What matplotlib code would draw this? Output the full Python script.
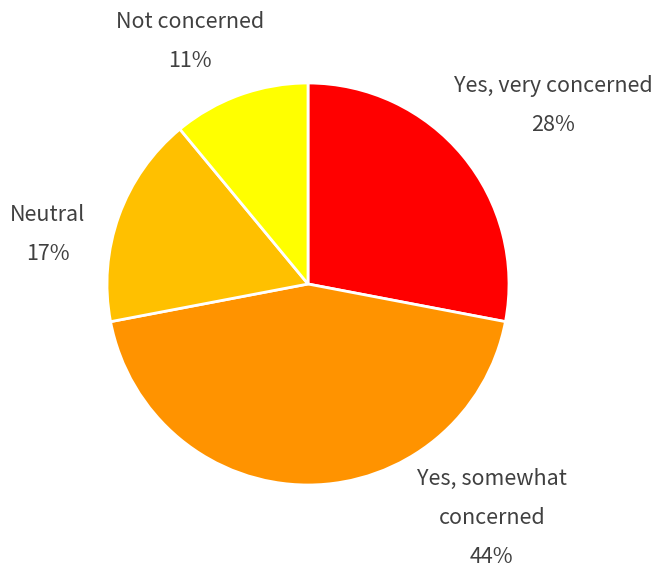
import matplotlib.pyplot as plt

labels = ["Yes, very concerned", "Yes, somewhat\nconcerned", "Neutral", "Not concerned"]
values = [28, 44, 17, 11]
colors = ["#FF0000", "#FF9300", "#FFC000", "#FFFF00"]
# label centres, in units of the pie radius
label_pos = [(1.22, 0.89), (0.915, -1.165), (-1.295, 0.245), (-0.585, 1.205)]

plt.rcParams['font.family'] = ['Noto Sans CJK KR', 'DejaVu Sans']

fig = plt.figure(figsize=(6.59, 5.67), dpi=100)
ax = fig.add_axes([(308 - 201) / 659, (567 - 284 - 201) / 567, 402 / 659, 402 / 567])
ax.pie(values, colors=colors, startangle=90, counterclock=False, radius=1,
       wedgeprops=dict(edgecolor='white', linewidth=2))
ax.set_xlim(-1, 1)
ax.set_ylim(-1, 1)
ax.set_aspect('auto')

for lab, v, (x, y) in zip(labels, values, label_pos):
    ax.text(x, y, f"{lab}\n{v}%", ha='center', va='center', fontsize=15.5,
            color='#404040', linespacing=2.0, clip_on=False)

fig.savefig("out.png", dpi=100)
